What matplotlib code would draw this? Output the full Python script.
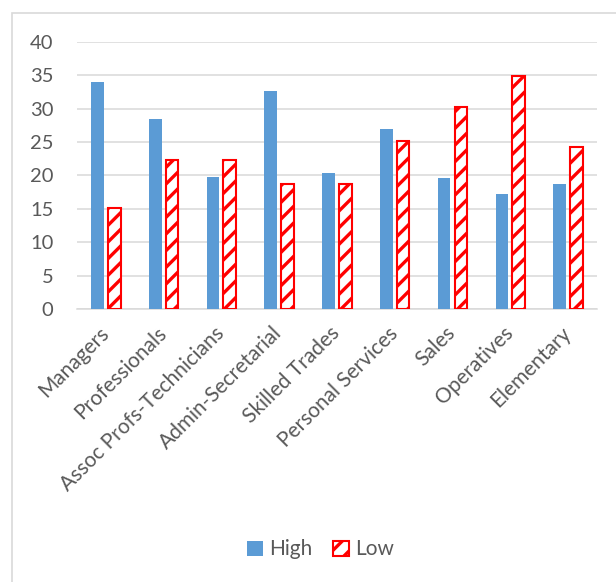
import numpy as np
import matplotlib
matplotlib.use("Agg")
import matplotlib.pyplot as plt
from matplotlib.patches import Rectangle

# ─── Data ──────────────────────────────────────────────────────────────
categories = [
    "Managers",
    "Professionals",
    "Assoc Profs-Technicians",
    "Admin-Secretarial",
    "Skilled Trades",
    "Personal Services",
    "Sales",
    "Operatives",
    "Elementary",
]
high = [33.9, 28.5, 19.7, 32.7, 20.3, 26.9, 19.6, 17.2, 18.8]
low = [15.1, 22.3, 22.3, 18.7, 18.8, 25.1, 30.3, 34.8, 24.3]
y_ticks = [0, 5, 10, 15, 20, 25, 30, 35, 40]

# ─── Style ─────────────────────────────────────────────────────────────
BLUE = "#5B9BD5"
RED = "#FF0000"
GRID = "#D9D9D9"
TXT = "#595959"
plt.rcParams["font.family"] = ["Lato", "DejaVu Sans"]
plt.rcParams["hatch.linewidth"] = 2.4
plt.rcParams["hatch.color"] = RED

fig = plt.figure(figsize=(6.16, 5.82), dpi=100)
ax = fig.add_axes([0.125, 0.4686, 0.844, 0.4598])

x = np.arange(len(categories))
w = 0.22
off = 0.145
ax.bar(x - off, high, w, color=BLUE, label="High", zorder=3)
ax.bar(x + off, low, w, facecolor="white", edgecolor=RED, hatch="//",
       linewidth=1.5, label="Low", zorder=3)

ax.set_xlim(-0.5, len(categories) - 0.5)
ax.set_ylim(0, 40)
ax.set_yticks(y_ticks)
ax.yaxis.grid(True, color=GRID, linewidth=1.1, zorder=0)
ax.set_axisbelow(True)
for s in ["left", "right", "top"]:
    ax.spines[s].set_visible(False)
ax.spines["bottom"].set_color(GRID)
ax.spines["bottom"].set_linewidth(1.1)

ax.tick_params(axis="y", length=0, pad=17, labelsize=14.5, labelcolor=TXT)
ax.tick_params(axis="x", length=0, pad=15, labelsize=15, labelcolor=TXT)
ax.set_xticks(x)
ax.set_xticklabels(categories, rotation=45, ha="right", va="center",
                   rotation_mode="anchor")

fig.legend(loc="center", bbox_to_anchor=(0.52, 0.056), ncol=2, frameon=False,
           fontsize=15, labelcolor=TXT, handlelength=0.75, handleheight=0.75,
           handletextpad=0.3, columnspacing=1.0)

# chart area border
fig.patches.append(Rectangle((12 / 616, -0.05), 1.1, 1 - 13 / 582 + 0.05,
                             transform=fig.transFigure, fill=False,
                             edgecolor=GRID, linewidth=1.2))

fig.savefig("out.png", dpi=100)
